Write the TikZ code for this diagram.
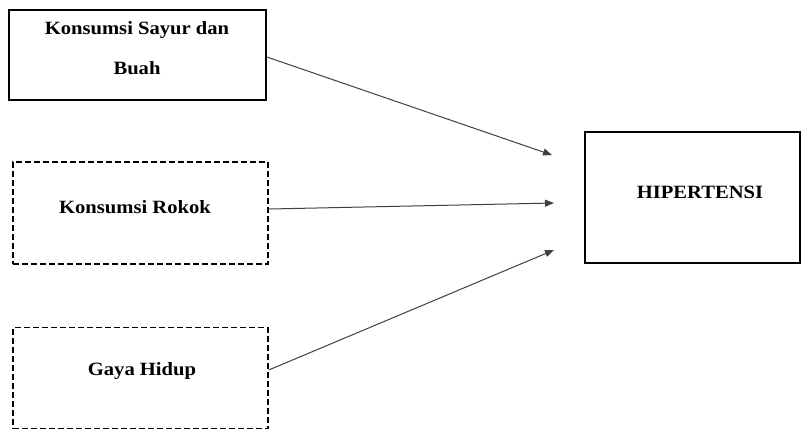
\documentclass[tikz,border=0pt]{standalone}
\usepackage{fontspec}
\setmainfont[FakeStretch=1.1]{Liberation Serif}
\usetikzlibrary{arrows.meta}
\begin{document}
\begin{tikzpicture}[x=1bp,y=-1bp,
  box/.style={draw=black,line width=1.8bp,inner sep=0pt},
  dbox/.style={draw=black,line width=1.5bp,dash pattern=on 6bp off 3bp,inner sep=0pt},
  lbl/.style={inner sep=0pt,align=center,font=\fontsize{18.8}{40}\selectfont\bfseries},
  conn/.style={draw=black!75,line width=1bp,-{Triangle[length=9bp,width=7bp]}}]
\useasboundingbox (0,0) rectangle (803,430);
\node[box,minimum width=257bp,minimum height=90bp] (b1) at (137.5,55) {};
\node[dbox,minimum width=255bp,minimum height=102bp] (b2) at (140.5,213) {};
\node[dbox,minimum width=255bp,minimum height=101bp] (b3) at (140.5,378) {};
\node[box,minimum width=215bp,minimum height=131bp] (h) at (692.5,197.5) {};
\node[lbl] (t1) at (137,48.5) {Konsumsi Sayur dan\\Buah};
\node[lbl] (t2) at (135,207) {Konsumsi Rokok};
\node[lbl] (t3) at (142,371) {Gaya Hidup};
\node[lbl] (th) at (700,192) {HIPERTENSI};
\coordinate (e1) at (552,155);
\coordinate (e2) at (554,203);
\coordinate (e3) at (554,250);
\draw[conn] ([yshift=-2bp]b1.east) -- (e1);
\draw[conn] ([yshift=4bp]b2.east) -- (e2);
\draw[conn] ([yshift=8bp]b3.east) -- (e3);
\end{tikzpicture}
\end{document}
